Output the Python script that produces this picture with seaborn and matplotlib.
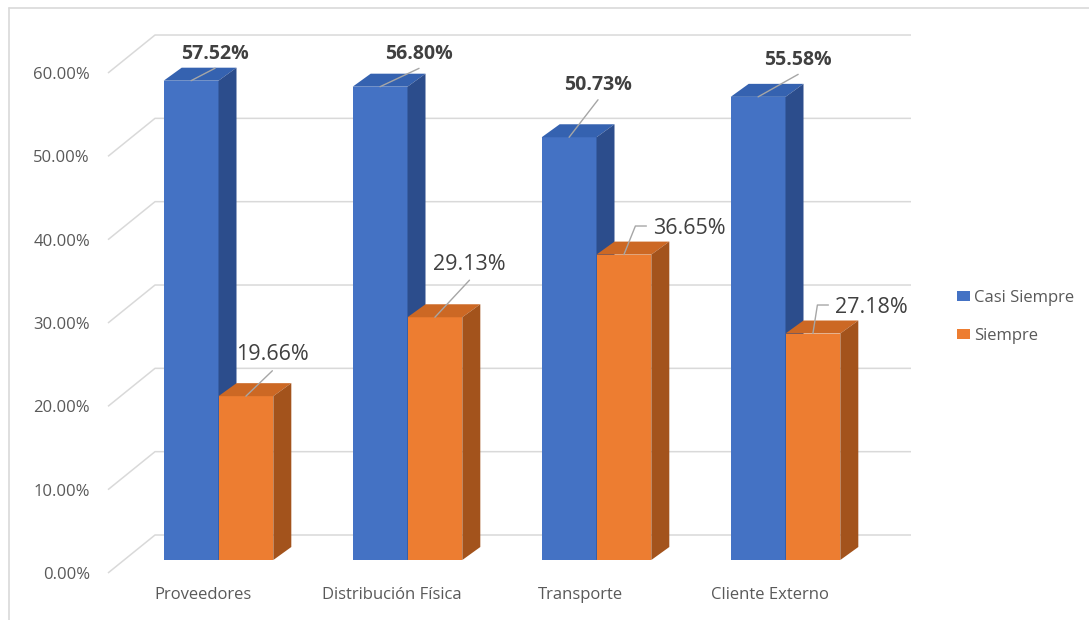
import matplotlib
matplotlib.use("Agg")
import matplotlib.pyplot as plt
from matplotlib.patches import Polygon
from matplotlib.lines import Line2D
import seaborn as sns
import pandas as pd

# ---- data -------------------------------------------------------------
categories = ["Proveedores", "Distribución Física", "Transporte", "Cliente Externo"]
casi_siempre = [57.52, 56.80, 50.73, 55.58]
siempre = [19.66, 29.13, 36.65, 27.18]
series_names = ["Casi Siempre", "Siempre"]
y_ticks = [0, 10, 20, 30, 40, 50, 60]

# ---- layout (data units: 1 category step on x, 1 % on y) -----------------
W, H = 1089, 620
PX_X, PX_Y = 189.0, 8.333           # pixels per category / per percent
X0_PX, Y0_PX = 218.5, 560.0         # pixel position of (0, 0)
BAR_DEPTH = (18 / PX_X, 13 / PX_Y)  # oblique offset of bar top / side
BACK = (31 / PX_X, 25 / PX_Y)       # back wall relative to bar plane
FRONT = (-16 / PX_X, -13 / PX_Y)    # front edge relative to bar plane
TXT_DY = -2 / PX_Y                  # optical centring of text

# label placement relative to each bar's top-centre: (dx, dy, style)
blue_label_pos = [(0.127, 3.5), (0.206, 4.2), (0.153, 6.5), (0.212, 4.7)]
orange_label_pos = [(0.14, 5.2, "above"), (0.183, 6.6, "above"),
                    (0.156, 3.43, "side"), (0.119, 3.42, "side")]

BLUE, BLUE_TOP, BLUE_SIDE = "#4472C4", "#3562B0", "#2C4D8C"
ORANGE, ORANGE_TOP, ORANGE_SIDE = "#ED7D31", "#CC6824", "#A3531C"
GRID = "#D9D9D9"
TXT = "#595959"
LBL = "#404040"
LEADER = "#A6A6A6"

sns.set_theme(style="white")
plt.rcParams["font.family"] = ["Open Sans", "DejaVu Sans"]

df = pd.DataFrame({
    "Categoria": categories * 2,
    "Valor": casi_siempre + siempre,
    "Serie": [series_names[0]] * 4 + [series_names[1]] * 4,
})

fig = plt.figure(figsize=(W / 100, H / 100), dpi=100)
ax = fig.add_axes([0, 0, 1, 1])

sns.barplot(data=df, x="Categoria", y="Valor", hue="Serie",
            palette=[BLUE, ORANGE], width=0.58, saturation=1,
            linewidth=0, errorbar=None, ax=ax, zorder=3)

ax.set_xlim(-X0_PX / PX_X, (W - X0_PX) / PX_X)
ax.set_ylim((Y0_PX - H) / PX_Y, Y0_PX / PX_Y)
ax.set_axis_off()

# ---- walls: gridlines running from the front edge back to the wall ----------
x_left, x_right = -0.5, len(categories) - 0.5
for v in y_ticks:
    ax.plot([x_left + FRONT[0], x_left + BACK[0], x_right + BACK[0]],
            [v + FRONT[1], v + BACK[1], v + BACK[1]],
            color=GRID, lw=1.1, zorder=1, solid_capstyle="butt")
    ax.text(-0.68, v + FRONT[1] + TXT_DY, f"{v:.2f}%", ha="right",
            va="center", fontsize=12, color=TXT)

for i, cat in enumerate(categories):
    ax.text(i + FRONT[0], (Y0_PX - 593) / PX_Y + TXT_DY, cat, ha="center",
            va="center", fontsize=12, color=TXT)

# ---- 3-D faces for each bar -------------------------------------------------
dx, dy = BAR_DEPTH
face_cols = [(BLUE_TOP, BLUE_SIDE), (ORANGE_TOP, ORANGE_SIDE)]
for k, cont in enumerate(ax.containers):
    top_c, side_c = face_cols[k]
    for rect in cont:
        x0, w, h = rect.get_x(), rect.get_width(), rect.get_height()
        z = 3 + k
        rect.set_zorder(z)
        ax.add_patch(Polygon([(x0, h), (x0 + w, h), (x0 + w + dx, h + dy),
                              (x0 + dx, h + dy)], closed=True,
                             facecolor=top_c, edgecolor="none", zorder=z))
        ax.add_patch(Polygon([(x0 + w, 0), (x0 + w, h), (x0 + w + dx, h + dy),
                              (x0 + w + dx, dy)], closed=True,
                             facecolor=side_c, edgecolor="none", zorder=z))

# ---- data labels with leader lines -----------------------------------------
for rect, v, (ox, oy) in zip(ax.containers[0], casi_siempre, blue_label_pos):
    cx = rect.get_x() + rect.get_width() / 2
    lx, ly = cx + ox, v + oy
    ax.plot([cx, lx], [v, ly - 2.0], color=LEADER, lw=1, zorder=10)
    ax.text(lx, ly + TXT_DY, f"{v:.2f}%", ha="center", va="center",
            fontsize=14, fontweight="bold", color=LBL, zorder=11)

for rect, v, (ox, oy, style) in zip(ax.containers[1], siempre, orange_label_pos):
    cx = rect.get_x() + rect.get_width() / 2
    lx, ly = cx + ox, v + oy
    if style == "above":
        ax.plot([cx, lx], [v, ly - 2.15], color=LEADER, lw=1, zorder=10)
        ax.text(lx, ly + TXT_DY, f"{v:.2f}%", ha="center", va="center",
                fontsize=15.5, color=LBL, zorder=11)
    else:
        ax.plot([cx, lx - 18 / PX_X, lx - 7 / PX_X], [v, ly, ly],
                color=LEADER, lw=1, zorder=10)
        ax.text(lx, ly + TXT_DY, f"{v:.2f}%", ha="left", va="center",
                fontsize=15.5, color=LBL, zorder=11)

# ---- legend ------------------------------------------------------------------
sns.move_legend(ax, "center left", bbox_to_anchor=(942 / W, 1 - 317 / H),
                frameon=False, title=None, fontsize=12, handlelength=0.75,
                handleheight=0.55, handletextpad=0.3, labelspacing=1.35)
for t in ax.get_legend().get_texts():
    t.set_color(TXT)

# ---- outer chart border -------------------------------------------------------
fig.add_artist(Line2D([9 / W, 9 / W], [0, 1 - 8 / H], color=GRID, lw=1.2))
fig.add_artist(Line2D([9 / W, 1], [1 - 8 / H, 1 - 8 / H], color=GRID, lw=1.2))

fig.savefig("out.png", dpi=100, facecolor="white")
